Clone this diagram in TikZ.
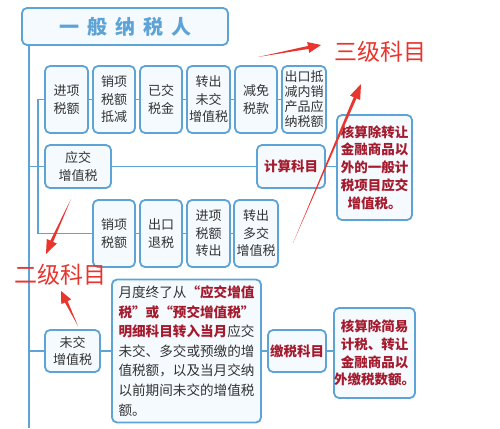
\documentclass[tikz,border=0pt]{standalone}
\usepackage{fontspec}
\setmainfont{Noto Sans CJK SC}
\usetikzlibrary{calc}
\definecolor{bl}{HTML}{5DA3D6}
\definecolor{bfill}{HTML}{F5FAFE}
\definecolor{dred}{HTML}{A51B2E}
\definecolor{ared}{HTML}{E8352E}
\definecolor{txt}{HTML}{333333}
\pgfdeclarelayer{bg}
\pgfsetlayers{bg,main}
\newcommand{\taperarrow}[3]{% tail, tip, head length
  \fill[ared] (#1) -- ($($(#2)!#3!(#1)$)!1.5pt!90:(#1)$) -- ($($(#2)!#3!(#1)$)!5.5pt!90:(#1)$) -- (#2)
   -- ($($(#2)!#3!(#1)$)!5.5pt!-90:(#1)$) -- ($($(#2)!#3!(#1)$)!1.5pt!-90:(#1)$) -- cycle;}
\begin{document}
\begin{tikzpicture}[x=1pt,y=-1pt,
  box/.style={draw=bl, line width=1.8pt, fill=bfill, rounded corners=5pt, inner sep=0pt,
    align=center, text=txt, font=\fontsize{13}{17.5}\selectfont},
  rbox/.style={box, text=dred, font=\fontsize{13.5}{17.8}\selectfont\bfseries},
  link/.style={draw=bl, line width=1.8pt},
  anno/.style={text=ared, font=\fontsize{23}{26}\selectfont, inner sep=0pt}]
\begin{pgfonlayer}{bg}
\path[fill=white] (0,0) rectangle (500,428);
\end{pgfonlayer}
\path[use as bounding box] (0,0) rectangle (500,428);

\node[box, minimum width=206pt, minimum height=37pt, text=bl, font=\fontsize{20}{24}\selectfont\bfseries] (title) at (125,26.5)
  {一\hspace{8pt}般\hspace{8pt}纳\hspace{8pt}税\hspace{8pt}人};

% row 1
\node[box, minimum width=43pt, minimum height=67pt] (r1a) at (66.5,99.5) {进项\\税额};
\node[box, minimum width=42pt, minimum height=67pt] (r1b) at (114,99.5) {销项\\税额\\抵减};
\node[box, minimum width=42pt, minimum height=67pt] (r1c) at (161,99.5) {已交\\税金};
\node[box, minimum width=43pt, minimum height=67pt] (r1d) at (208.5,99.5) {转出\\未交\\增值税};
\node[box, minimum width=42pt, minimum height=67pt] (r1e) at (256,99.5) {减免\\税款};
\node[box, minimum width=44pt, minimum height=67pt, font=\fontsize{13}{15}\selectfont] (r1f) at (304,99.5) {出口抵\\减内销\\产品应\\纳税额};

% middle
\node[box, minimum width=66pt, minimum height=43pt] (yj) at (78,166.5) {应交\\增值税};
\node[rbox, minimum width=68pt, minimum height=43pt] (js) at (291,166.5) {计算科目};
\node[rbox, minimum width=75pt, minimum height=105pt] (rb1) at (374.5,167.5) {核算除转让\\金融商品以\\外的一般计\\税项目应交\\增值税。};

% row 2
\node[box, minimum width=42pt, minimum height=67pt] (r2a) at (114,233.5) {销项\\税额};
\node[box, minimum width=42pt, minimum height=67pt] (r2b) at (161,233.5) {出口\\退税};
\node[box, minimum width=43pt, minimum height=67pt] (r2c) at (208.5,233.5) {进项\\税额\\转出};
\node[box, minimum width=44pt, minimum height=67pt] (r2d) at (256,233.5) {转出\\多交\\增值税};

% bottom
\node[box, minimum width=55pt, minimum height=42pt] (wj) at (72.5,351) {未交\\增值税};
\node[box, minimum width=149pt, minimum height=143pt, align=left, font=\fontsize{13.6}{19.6}\selectfont] (big) at (186.5,351)
  {月度终了从{\bfseries\color{dred}“应交增值}\\
   {\bfseries\color{dred}税”或“预交增值税”}\\
   {\bfseries\color{dred}明细科目转入当月}应交\\
   未交、多交或预缴的增\\
   值税额，以及当月交纳\\
   以前期间未交的增值税\\
   额。};
\node[rbox, minimum width=58pt, minimum height=42pt] (jn) at (297,351) {缴税科目};
\node[rbox, minimum width=77pt, minimum height=90pt] (rb2) at (374.5,353) {核算除简易\\计税、转让\\金融商品以\\外缴税数额。};

% connectors
\coordinate (trunkbot) at (29,428);
\coordinate (iv) at (38,0);
\begin{pgfonlayer}{bg}
\draw[link] (title.south -| trunkbot) -- (trunkbot);
\draw[link] (r1a.west) -- (r1a.west -| iv) |- (r2a.west);
\draw[link] (r1a) -- (r1b);
\draw[link] (r1b) -- (r1c);
\draw[link] (r1c) -- (r1d);
\draw[link] (r1d) -- (r1e);
\draw[link] (r1e) -- (r1f);
\draw[link] (yj.west -| trunkbot) -- (yj.west);
\draw[link] (yj) -- (js);
\draw[link] (js) -- (rb1.west |- js);
\draw[link] (r2a) -- (r2b);
\draw[link] (r2b) -- (r2c);
\draw[link] (r2c) -- (r2d);
\draw[link] (wj.west -| trunkbot) -- (wj.west);
\draw[link] (wj) -- (big);
\draw[link] (big) -- (jn);
\draw[link] (jn) -- (rb2.west |- jn);
\end{pgfonlayer}

% annotations
\node[anno] (l3) at (380,52) {三级科目};
\node[anno] (l2) at (60.5,275) {二级科目};
\coordinate (a1t) at (258,57); \coordinate (a1h) at (321,45);
\coordinate (a2t) at (293,243); \coordinate (a2h) at (361,84);
\coordinate (a3t) at (71,199); \coordinate (a3h) at (46,254);
\coordinate (a4t) at (78,326); \coordinate (a4h) at (61,291);
\taperarrow{a1t}{a1h}{13pt}
\taperarrow{a2t}{a2h}{15pt}
\taperarrow{a3t}{a3h}{14pt}
\taperarrow{a4t}{a4h}{12pt}
\end{tikzpicture}
\end{document}
